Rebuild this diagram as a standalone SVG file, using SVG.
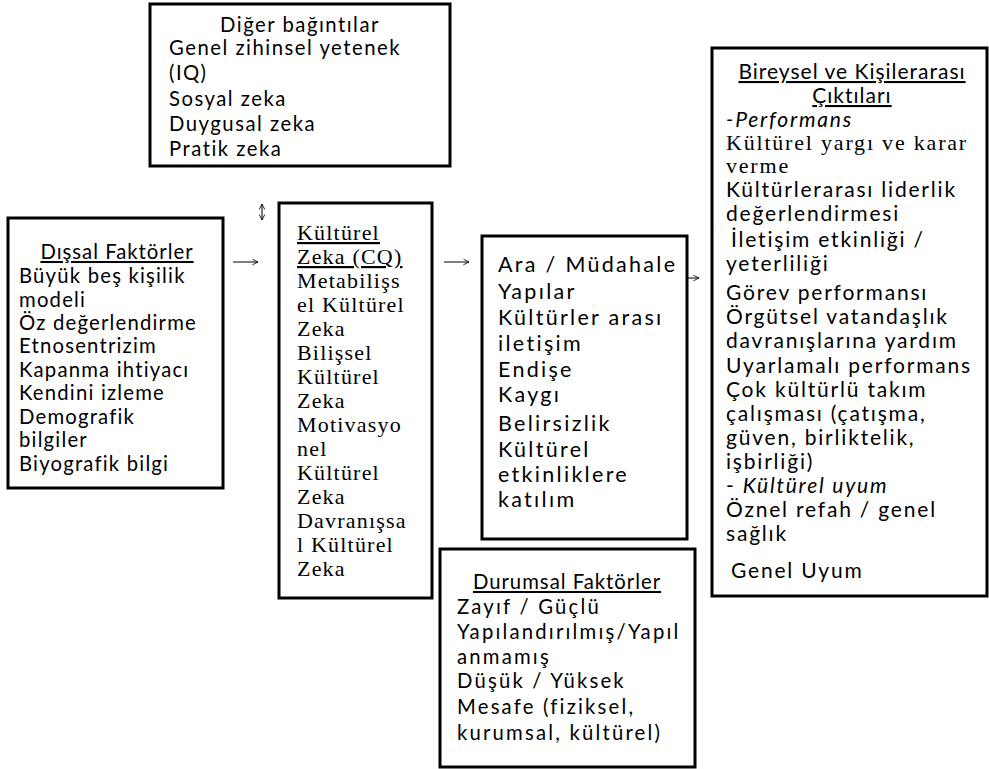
<svg xmlns="http://www.w3.org/2000/svg" width="989" height="769" viewBox="0 0 989 769">
  <style>
    .box { fill: #ffffff; stroke: #000000; stroke-width: 3; }
    .t { font-family: Lato, "Open Sans", "Liberation Sans", sans-serif; font-size: 20.3px; fill: #000000; }
    .s { font-family: "Liberation Serif", "Times New Roman", serif; font-size: 22px; letter-spacing: 1.2px; fill: #000000; }
    .u { text-decoration: underline; }
    .i { font-style: italic; }
    .mid { text-anchor: middle; }
    #diger-bagintilar .t { letter-spacing: 1.5px; }
    #dissal-faktorler .t { letter-spacing: 1.2px; }
    #ara-yapilar .t { font-size: 21.5px; letter-spacing: 2.3px; }
    #durumsal-faktorler .t { letter-spacing: 2.2px; }
    #bireysel-ciktilar .t { font-size: 21px; letter-spacing: 1.8px; }
    #bireysel-ciktilar .s { letter-spacing: 1.8px; }
    #dissal-faktorler .h, #durumsal-faktorler .h, #bireysel-ciktilar .h { letter-spacing: 1px; }
    .conn { stroke: #000000; stroke-width: 1; fill: none; }
  </style>
  <defs>
    <marker id="head" viewBox="0 0 10 10" refX="10" refY="5" markerWidth="7" markerHeight="7" orient="auto-start-reverse" markerUnits="userSpaceOnUse">
      <path d="M2,1 L10,5 L2,9" fill="none" stroke="#000" stroke-width="1.2"/>
    </marker>
  </defs>

  <rect width="989" height="769" fill="#ffffff"/>

  <!-- Correlates -->
  <g id="diger-bagintilar">
    <rect class="box" x="150" y="4" width="300" height="162"/>
    <text class="t mid" x="300" y="32">Diğer bağıntılar</text>
    <text class="t" x="169" y="55">Genel zihinsel yetenek</text>
    <text class="t" x="169" y="80">(IQ)</text>
    <text class="t" x="169" y="106">Sosyal zeka</text>
    <text class="t" x="169" y="131">Duygusal zeka</text>
    <text class="t" x="169" y="156">Pratik zeka</text>
  </g>

  <!-- External factors -->
  <g id="dissal-faktorler">
    <rect class="box" x="8" y="218" width="215" height="270"/>
    <text class="t mid u h" x="117" y="259">Dışsal Faktörler</text>
    <text class="t" x="19" y="283">Büyük beş kişilik</text>
    <text class="t" x="19" y="307">modeli</text>
    <text class="t" x="19" y="330">Öz değerlendirme</text>
    <text class="t" x="19" y="353">Etnosentrizim</text>
    <text class="t" x="19" y="377">Kapanma ihtiyacı</text>
    <text class="t" x="19" y="400">Kendini izleme</text>
    <text class="t" x="19" y="424">Demografik</text>
    <text class="t" x="19" y="447">bilgiler</text>
    <text class="t" x="19" y="471">Biyografik bilgi</text>
  </g>

  <!-- Cultural intelligence -->
  <g id="kulturel-zeka">
    <rect class="box" x="279" y="203" width="153" height="395"/>
    <text class="s u" x="297" y="240">Kültürel</text>
    <text class="s u" x="297" y="264">Zeka (CQ)</text>
    <text class="s" x="297" y="288">Metabilişs</text>
    <text class="s" x="297" y="312">el Kültürel</text>
    <text class="s" x="297" y="336">Zeka</text>
    <text class="s" x="297" y="360">Bilişsel</text>
    <text class="s" x="297" y="384">Kültürel</text>
    <text class="s" x="297" y="408">Zeka</text>
    <text class="s" x="297" y="432">Motivasyo</text>
    <text class="s" x="297" y="456">nel</text>
    <text class="s" x="297" y="480">Kültürel</text>
    <text class="s" x="297" y="504">Zeka</text>
    <text class="s" x="297" y="528">Davranışsa</text>
    <text class="s" x="297" y="552">l Kültürel</text>
    <text class="s" x="297" y="576">Zeka</text>
  </g>

  <!-- Mediating constructs -->
  <g id="ara-yapilar">
    <rect class="box" x="482" y="236" width="205" height="303"/>
    <text class="t" x="498" y="272">Ara / Müdahale</text>
    <text class="t" x="498" y="299">Yapılar</text>
    <text class="t" x="498" y="325">Kültürler arası</text>
    <text class="t" x="498" y="351">iletişim</text>
    <text class="t" x="498" y="377">Endişe</text>
    <text class="t" x="498" y="402">Kaygı</text>
    <text class="t" x="498" y="431">Belirsizlik</text>
    <text class="t" x="498" y="457">Kültürel</text>
    <text class="t" x="498" y="482">etkinliklere</text>
    <text class="t" x="498" y="507">katılım</text>
  </g>

  <!-- Situational factors -->
  <g id="durumsal-faktorler">
    <rect class="box" x="440" y="549" width="255" height="218"/>
    <text class="t mid u h" x="567" y="589">Durumsal Faktörler</text>
    <text class="t" x="457" y="614">Zayıf / Güçlü</text>
    <text class="t" x="457" y="639">Yapılandırılmış/Yapıl</text>
    <text class="t" x="457" y="664">anmamış</text>
    <text class="t" x="457" y="688">Düşük / Yüksek</text>
    <text class="t" x="457" y="714">Mesafe (fiziksel,</text>
    <text class="t" x="457" y="740">kurumsal, kültürel)</text>
  </g>

  <!-- Outcomes -->
  <g id="bireysel-ciktilar">
    <rect class="box" x="712" y="48" width="275" height="548"/>
    <text class="t mid u h" x="852" y="79">Bireysel ve Kişilerarası</text>
    <text class="t mid u h" x="852" y="103">Çıktıları</text>
    <text class="t i" x="726" y="127">-Performans</text>
    <text class="s" x="726" y="150">Kültürel yargı ve karar</text>
    <text class="s" x="726" y="173">verme</text>
    <text class="t" x="726" y="197">Kültürlerarası liderlik</text>
    <text class="t" x="726" y="221">değerlendirmesi</text>
    <text class="t" x="731" y="247">İletişim etkinliği /</text>
    <text class="t" x="726" y="271">yeterliliği</text>
    <text class="t" x="726" y="300">Görev performansı</text>
    <text class="t" x="726" y="324">Örgütsel vatandaşlık</text>
    <text class="t" x="726" y="348">davranışlarına yardım</text>
    <text class="t" x="726" y="373">Uyarlamalı performans</text>
    <text class="t" x="726" y="397">Çok kültürlü takım</text>
    <text class="t" x="726" y="421">çalışması (çatışma,</text>
    <text class="t" x="726" y="445">güven, birliktelik,</text>
    <text class="t" x="726" y="469">işbirliği)</text>
    <text class="t" x="726" y="493">- <tspan class="i">Kültürel uyum</tspan></text>
    <text class="t" x="726" y="517">Öznel refah / genel</text>
    <text class="t" x="726" y="541">sağlık</text>
    <text class="t" x="731" y="578">Genel Uyum</text>
  </g>

  <!-- Connectors -->
  <g id="connectors">
    <path class="conn" d="M262,204 L262,220" marker-start="url(#head)" marker-end="url(#head)"/>
    <path class="conn" d="M233,262 L258,262" marker-end="url(#head)"/>
    <path class="conn" d="M444,262 L469,262" marker-end="url(#head)"/>
    <path class="conn" d="M688,278 L699,278" marker-end="url(#head)"/>
  </g>
</svg>
